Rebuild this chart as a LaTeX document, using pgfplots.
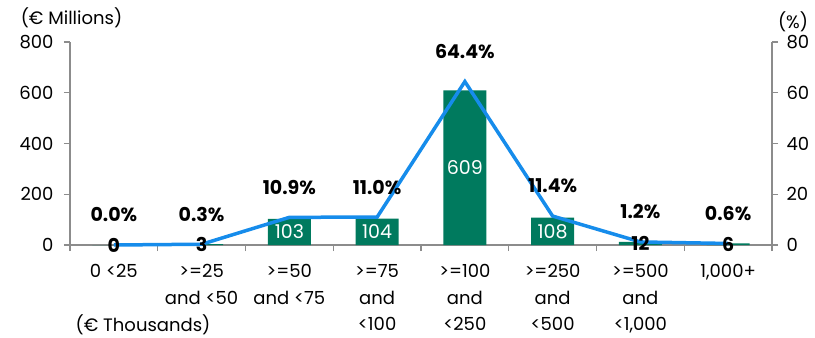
\documentclass[border=0pt]{standalone}
\usepackage{pgfplots}
\pgfplotsset{compat=1.18}
\usepackage{pgfplotstable}
\usepackage{fontspec}
\setmainfont{Poppins}
\definecolor{bargreen}{RGB}{0,122,94}
\definecolor{lineblue}{RGB}{22,140,235}
\definecolor{axisgrey}{RGB}{140,140,140}
\pgfplotstableread{
x amt pct
0 0 0.0
1 3 0.3
2 103 10.9
3 104 11.0
4 609 64.4
5 108 11.4
6 12 1.2
7 6 0.6
}\data
\begin{document}
\begin{tikzpicture}
\pgfplotsset{
  base/.style={
    scale only axis, width=702bp, height=203bp,
    xmin=-0.5, xmax=7.5, ymin=0,
    font=\fontsize{18bp}{26.5bp}\selectfont,
    /pgf/number format/assume math mode=true,
    axis line style={axisgrey, line width=1.3bp},
    tick style={axisgrey, line width=1.1bp},
    tick align=outside,
    major tick length=6bp, minor tick length=6bp,
    clip=false,
  }
}
\begin{axis}[base,
  ymax=800,
  axis y line*=left, axis x line*=bottom,
  ytick={0,200,400,600,800},
  xtick={0,...,7},
  xticklabels={{0 <25},{>=25\\and <50},{>=50\\and <75},{>=75\\and\\<100},{>=100\\and\\<250},{>=250\\and\\<500},{>=500\\and\\<1,000},{1,000+}},
  xticklabel style={align=center, text depth=0pt, yshift=-10bp},
  major x tick style={draw=none},
  minor xtick={-0.5,0.5,...,7.5},
  yticklabel style={xshift=-7bp},
]
\addplot[ybar, bar width=43bp, bar shift=0pt, fill=bargreen, draw=none] table[x=x,y=amt]{\data};
\end{axis}
\begin{axis}[base,
  ymax=80,
  axis y line*=right, axis x line=none,
  ytick={0,20,40,60,80},
  yticklabel style={xshift=5bp},
]
\addplot[lineblue, line width=3.5bp, mark=none,
  nodes near coords={\pgfmathprintnumber[fixed,fixed zerofill,precision=1]{\pgfplotspointmeta}\%},
  point meta=y,
  every node near coord/.append style={text=black, font=\fontsize{19bp}{20bp}\selectfont\bfseries, anchor=center, yshift=30bp}
] table[x=x,y=pct]{\data};
\addplot[draw=none, mark=none,
  restrict y to domain=5:100,
  nodes near coords, point meta=\thisrow{amt},
  every node near coord/.append style={text=white, anchor=center, font=\fontsize{19bp}{20bp}\selectfont}
] table[x=x, y expr=\thisrow{amt}/20]{\data};
\addplot[draw=none, mark=none,
  restrict y to domain=-1:4,
  nodes near coords, point meta=\thisrow{amt},
  every node near coord/.append style={text=black, anchor=center, font=\fontsize{19bp}{20bp}\selectfont\bfseries}
] table[x=x, y expr=\thisrow{amt}/20]{\data};
\end{axis}
\node[font=\fontsize{18bp}{20bp}\selectfont] at ([xshift=1.5bp,yshift=227bp]current axis.south west) {(€ Millions)};
\node[font=\fontsize{18bp}{20bp}\selectfont] at ([xshift=21bp,yshift=223bp]current axis.south east) {(\%)};
\node[font=\fontsize{18bp}{20bp}\selectfont] at ([xshift=73bp,yshift=-80bp]current axis.south west) {(€ Thousands)};
\pgfresetboundingbox
\useasboundingbox ([xshift=-70bp,yshift=-93bp]current axis.south west) rectangle ++(815bp,338bp);
\end{tikzpicture}
\end{document}
